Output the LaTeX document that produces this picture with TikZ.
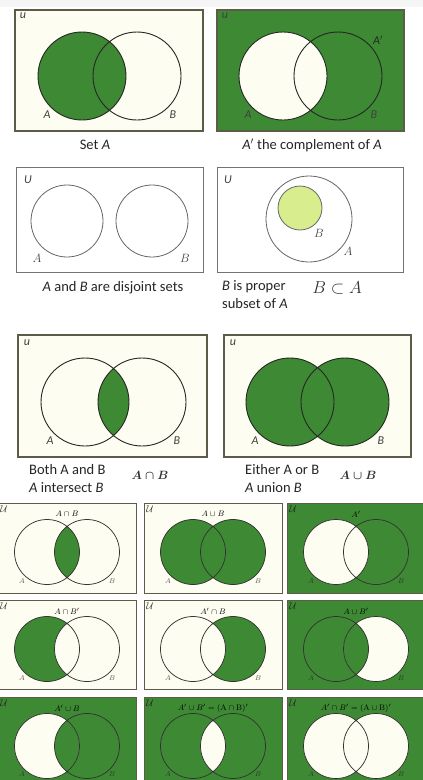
\documentclass[tikz,border=0pt]{standalone}
\usepackage[no-math]{fontspec}
\setmainfont{Carlito}
\definecolor{vgreen}{HTML}{3E8A34}
\definecolor{cream}{HTML}{FDFDF1}
\definecolor{boxline}{HTML}{5C5C48}
\definecolor{subfill}{HTML}{D8EE8E}
\newcommand{\vennA}{(49,49) circle[radius=32.5]}
\newcommand{\vennB}{(89,49) circle[radius=32.5]}
\tikzset{
  panel/.style={draw=boxline, line width=1.2pt},
  spanel/.style={draw=boxline, line width=1pt},
  gpanel/.style={draw=black!55, line width=0.8pt},
  ring/.style={draw=black!85, line width=0.9pt},
  sring/.style={draw=black!80, line width=0.75pt},
  gring/.style={draw=black!60, line width=0.8pt},
  lbl/.style={font=\fontsize{12}{13}\selectfont\itshape, text=black!75, inner sep=0pt},
  captxt/.style={font=\fontsize{14.5}{16}\selectfont, text=black!85, inner sep=0pt},
  stitle/.style={font=\fontsize{8.5}{9}\selectfont, inner sep=0pt},
  slbl/.style={font=\fontsize{7.5}{8}\selectfont, text=black!65, inner sep=0pt},
  suni/.style={font=\fontsize{10}{10}\selectfont, text=black!75, inner sep=0pt}
}
\begin{document}
\begin{tikzpicture}[x=1pt,y=-1pt]
\useasboundingbox (0,0) rectangle (423,780);
\fill[white] (0,0) rectangle (423,780);
\fill[black!4] (0,0) rectangle (423,7);

% set A
\draw[panel, fill=cream] (15,10) rectangle (203,131);
\fill[vgreen] (82,76) circle[radius=44];
\draw[ring] (82,76) circle[radius=44] (137,76) circle[radius=44];
\node[lbl] (u1) at (23,16) {u};
\node[lbl] (a1) at (47,115) {A};
\node[lbl] (b1) at (173,115) {B};
\node[captxt] (c1) at (95,145) {Set \textit{A}};

% complement of A
\draw[panel, fill=vgreen] (217,10) rectangle (404,131);
\fill[cream] (283,76) circle[radius=44];
\draw[ring] (283,76) circle[radius=44] (338,76) circle[radius=44];
\node[lbl] (u2) at (225,16) {u};
\node[lbl, text=black!85] (ac2) at (378,40) {A$'$};
\node[lbl] (a2) at (248,115) {A};
\node[lbl] (b2) at (374,115) {B};
\node[captxt] (c2) at (312,145) {\textit{A}$'$ the complement of \textit{A}};

% disjoint
\draw[gpanel, fill=white] (16,167) rectangle (203,272);
\draw[gring] (67,221) circle[radius=36] (152,221) circle[radius=36];
\node[lbl] (u3) at (28,180) {U};
\node[lbl, font=\fontsize{13}{14}\selectfont] (a3) at (37,258) {$A$};
\node[lbl, font=\fontsize{13}{14}\selectfont] (b3) at (185,258) {$B$};
\node[captxt] (c3) at (113,288) {\textit{A} and \textit{B} are disjoint sets};

% subset
\draw[gpanel, fill=white] (217,167) rectangle (403,272);
\draw[gring] (309,219) circle[radius=43];
\draw[gring, fill=subfill] (300,208) circle[radius=22];
\node[lbl] (u4) at (228,180) {U};
\node[lbl, font=\fontsize{13}{14}\selectfont] (b4) at (319,233) {$B$};
\node[lbl, font=\fontsize{13}{14}\selectfont] (a4) at (348,251) {$A$};
\node[captxt, anchor=west] (c4) at (222,287) {\textit{B} is proper};
\node[captxt, anchor=west] (d4) at (222,304) {subset of \textit{A}};
\node[font=\fontsize{17}{18}\selectfont, text=black!80] (s4) at (337,288) {$B\subset A$};

% intersection
\draw[panel, fill=cream] (18,335) rectangle (207,457);
\begin{scope}
\clip (85,402) circle[radius=44];
\fill[vgreen] (142,402) circle[radius=44];
\end{scope}
\draw[ring] (85,402) circle[radius=44] (142,402) circle[radius=44];
\node[lbl] (u5) at (27,343) {u};
\node[lbl] (a5) at (50,441) {A};
\node[lbl] (b5) at (177,441) {B};
\node[captxt, anchor=west] (c5) at (29,470) {Both A and B};
\node[captxt, anchor=west] (d5) at (29,488) {\textit{A} intersect \textit{B}};
\node[font=\fontsize{11.5}{13}\selectfont\boldmath, text=black!80] (s5) at (150,475) {$A\cap B$};

% union
\draw[panel, fill=cream] (224,335) rectangle (411,457);
\fill[vgreen] (290,402) circle[radius=44] (345,402) circle[radius=44];
\draw[ring] (290,402) circle[radius=44] (345,402) circle[radius=44];
\node[lbl] (u6) at (233,343) {u};
\node[lbl] (a6) at (255,441) {A};
\node[lbl] (b6) at (381,441) {B};
\node[captxt, anchor=west] (c6) at (245,470) {Either A or B};
\node[captxt, anchor=west] (d6) at (245,488) {\textit{A} union \textit{B}};
\node[font=\fontsize{11.5}{13}\selectfont\boldmath, text=black!80] (s6) at (358,475) {$A\cup B$};

% A cap B
\begin{scope}[shift={(-2,503)}]
\draw[spanel, fill=cream] (0,0) rectangle (138,90);
\begin{scope}\clip \vennA; \fill[vgreen] \vennB; \end{scope}
\draw[sring] \vennA \vennB;
\node[suni] (su1) at (6,6) {$\mathcal{U}$};
\node[stitle] (st1) at (69,11) {$A\cap B$};
\node[slbl] (sa1) at (24,78) {$A$};
\node[slbl] (sb1) at (114,78) {$B$};
\end{scope}

% A cup B
\begin{scope}[shift={(144,503)}]
\draw[spanel, fill=cream] (0,0) rectangle (138,90);
\fill[vgreen] \vennA \vennB;
\draw[sring] \vennA \vennB;
\node[suni] (su2) at (6,6) {$\mathcal{U}$};
\node[stitle] (st2) at (69,11) {$A\cup B$};
\node[slbl] (sa2) at (24,78) {$A$};
\node[slbl] (sb2) at (114,78) {$B$};
\end{scope}

% A'
\begin{scope}[shift={(287,503)}]
\draw[spanel, fill=vgreen] (0,0) rectangle (138,90);
\fill[cream] \vennA;
\draw[sring] \vennA \vennB;
\node[suni, text=black!85] (su3) at (6,6) {$\mathcal{U}$};
\node[stitle] (st3) at (69,11) {$A'$};
\node[slbl, text=black!80] (sa3) at (24,78) {$A$};
\node[slbl, text=black!80] (sb3) at (114,78) {$B$};
\end{scope}

% A cap B'
\begin{scope}[shift={(-2,600)}]
\draw[spanel, fill=cream] (0,0) rectangle (138,89);
\fill[vgreen] \vennA;
\begin{scope}\clip \vennA; \fill[cream] \vennB; \end{scope}
\draw[sring] \vennA \vennB;
\node[suni] (su4) at (6,6) {$\mathcal{U}$};
\node[stitle] (st4) at (69,11) {$A\cap B'$};
\node[slbl] (sa4) at (24,78) {$A$};
\node[slbl] (sb4) at (114,78) {$B$};
\end{scope}

% A' cap B
\begin{scope}[shift={(144,600)}]
\draw[spanel, fill=cream] (0,0) rectangle (138,89);
\fill[vgreen] \vennB;
\begin{scope}\clip \vennB; \fill[cream] \vennA; \end{scope}
\draw[sring] \vennA \vennB;
\node[suni] (su5) at (6,6) {$\mathcal{U}$};
\node[stitle] (st5) at (69,11) {$A'\cap B$};
\node[slbl] (sa5) at (24,78) {$A$};
\node[slbl] (sb5) at (114,78) {$B$};
\end{scope}

% A cup B'
\begin{scope}[shift={(287,600)}]
\draw[spanel, fill=vgreen] (0,0) rectangle (138,89);
\fill[cream] \vennB;
\begin{scope}\clip \vennB; \fill[vgreen] \vennA; \end{scope}
\draw[sring] \vennA \vennB;
\node[suni, text=black!85] (su6) at (6,6) {$\mathcal{U}$};
\node[stitle] (st6) at (69,11) {$A\cup B'$};
\node[slbl, text=black!80] (sa6) at (24,78) {$A$};
\node[slbl, text=black!80] (sb6) at (114,78) {$B$};
\end{scope}

% A' cup B
\begin{scope}[shift={(-2,697)}]
\draw[spanel, fill=vgreen] (0,0) rectangle (138,95);
\fill[cream] \vennA;
\begin{scope}\clip \vennA; \fill[vgreen] \vennB; \end{scope}
\draw[sring] \vennA \vennB;
\node[suni, text=black!85] (su7) at (6,6) {$\mathcal{U}$};
\node[stitle] (st7) at (69,11) {$A'\cup B$};
\node[slbl, text=black!80] (sa7) at (24,77) {$A$};
\node[slbl, text=black!80] (sb7) at (114,77) {$B$};
\end{scope}

% (A cap B)'
\begin{scope}[shift={(144,697)}]
\draw[spanel, fill=vgreen] (0,0) rectangle (138,95);
\begin{scope}\clip \vennA; \fill[cream] \vennB; \end{scope}
\draw[sring] \vennA \vennB;
\node[suni, text=black!85] (su8) at (6,6) {$\mathcal{U}$};
\node[stitle] (st8) at (69,11) {$A'\cup B'=(\mathrm{A}\cap\mathrm{B})'$};
\node[slbl, text=black!80] (sa8) at (24,77) {$A$};
\node[slbl, text=black!80] (sb8) at (114,77) {$B$};
\end{scope}

% (A cup B)'
\begin{scope}[shift={(287,697)}]
\draw[spanel, fill=vgreen] (0,0) rectangle (138,95);
\fill[cream] \vennA \vennB;
\draw[sring] \vennA \vennB;
\node[suni, text=black!85] (su9) at (6,6) {$\mathcal{U}$};
\node[stitle] (st9) at (69,11) {$A'\cap B'=(\mathrm{A}\cup\mathrm{B})'$};
\node[slbl, text=black!80] (sa9) at (24,77) {$A$};
\node[slbl, text=black!80] (sb9) at (114,77) {$B$};
\end{scope}
\end{tikzpicture}
\end{document}
